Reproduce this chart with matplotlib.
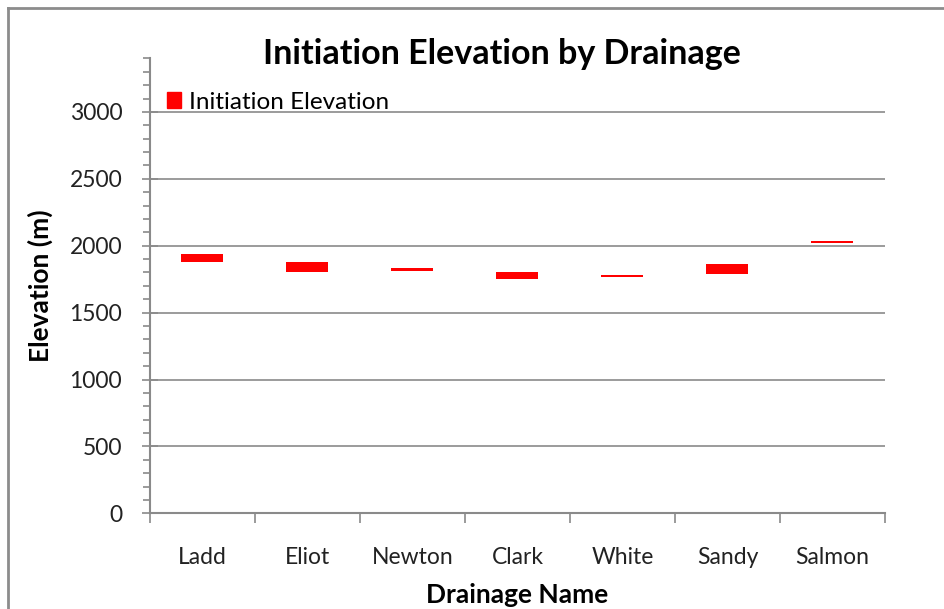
import numpy as np
import matplotlib
matplotlib.use('Agg')
import matplotlib.pyplot as plt
from matplotlib.lines import Line2D
from matplotlib.patches import Patch

plt.rcParams['font.family'] = ['Lato', 'DejaVu Sans']

# data (elevation range in m)
drainages = ['Ladd', 'Eliot', 'Newton', 'Clark', 'White', 'Sandy', 'Salmon']
low = [1876, 1801, 1810, 1751, 1769, 1791, 2019]
high = [1936, 1876, 1830, 1801, 1782, 1861, 2032]

fig = plt.figure(figsize=(9.45, 6.09), dpi=100)
ax = fig.add_axes([150/945, 1-513.3/609, 735/945, (513.3-58.4)/609])

x = np.arange(len(drainages))
heights = np.array(high) - np.array(low)
ax.bar(x, heights, bottom=low, width=0.4, color='#ff0000', zorder=3)

grey = '#8a8a8a'
ax.set_ylim(0, 3400)
ax.set_xlim(-0.5, len(drainages) - 0.5)
ax.set_yticks(np.arange(0, 3001, 500))
ax.set_yticks(np.arange(0, 3401, 100), minor=True)
for yv in np.arange(500, 3001, 500):
    ax.axhline(yv, color=grey, lw=1.2, zorder=1)

ax.set_xticks(np.arange(-0.5, len(drainages)), labels=[''] * (len(drainages) + 1))
ax.set_xticks(x, labels=drainages, minor=True)
ax.tick_params(axis='x', which='major', direction='out', length=7, color=grey, width=1.2)
ax.tick_params(axis='x', which='minor', length=0, labelsize=16.5, pad=24, labelcolor='#222222')
ax.tick_params(axis='y', which='major', direction='inout', length=12, color=grey, width=1.2,
               labelsize=16.5, pad=14, labelcolor='#222222')
ax.tick_params(axis='y', which='minor', direction='out', length=5, color=grey, width=1.2)

for s in ['top', 'right']:
    ax.spines[s].set_visible(False)
for s in ['left', 'bottom']:
    ax.spines[s].set_color(grey)
    ax.spines[s].set_linewidth(1.5)

ax.set_ylabel('Elevation (m)', fontsize=19, fontweight='bold', labelpad=12)
ax.set_xlabel('Drainage Name', fontsize=19, fontweight='bold', labelpad=11)
fig.text(502/945, 1-54/609, 'Initiation Elevation by Drainage', fontsize=24.5,
         fontweight='bold', ha='center', va='center')

ax.legend(handles=[Patch(color='#ff0000', label='Initiation Elevation')],
          loc='upper left', bbox_to_anchor=(-0.007, 0.975), frameon=False, fontsize=17.5,
          handlelength=0.6, handleheight=0.6, handletextpad=0.3, borderaxespad=0.5)

# outer chart border (top and left visible)
fig.add_artist(Line2D([8/945, 1], [1-8/609, 1-8/609], color='#8c8c8c', lw=2))
fig.add_artist(Line2D([8/945, 8/945], [0, 1-8/609], color='#8c8c8c', lw=2))

fig.savefig('out.png', dpi=100)
